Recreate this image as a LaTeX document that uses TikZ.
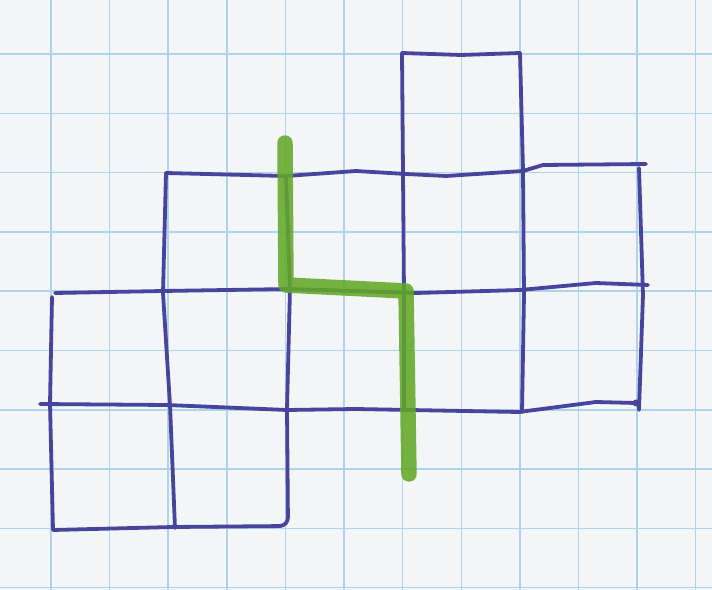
\documentclass[tikz,border=0pt]{standalone}
\usepackage{tikz}
\usepackage{xcolor}
\definecolor{paper}{RGB}{244,245,247}
\definecolor{gridblue}{RGB}{172,212,236}
\definecolor{ink}{RGB}{70,68,156}
\definecolor{marker}{RGB}{98,168,40}

\begin{document}
\begin{tikzpicture}[x=0.025cm, y=-0.025cm,
  gridline/.style={draw=gridblue, line width=1pt},
  penline/.style={draw=ink, line width=2.7pt, line cap=round, line join=round},
  markerline/.style={draw=marker, line width=11pt, line cap=round, line join=round, opacity=0.88}]
%paper
\fill[paper] (0,0) rectangle (712,590);
\useasboundingbox (0,0) rectangle (712,590);
\foreach \k in {-1,...,11}
  \draw[gridline] ({51+58.6*\k},0) -- ({51+58.6*\k},590);
\foreach \k in {-1,...,9}
  \draw[gridline] (0,{54+59.3*\k}) -- (712,{54+59.3*\k});
%horizontal pen lines
\draw[penline] (402,53) -- (461,55) -- (520,53);
\draw[penline] (166,173) -- (286,176) -- (356,171) -- (406,174) -- (446,176) -- (523,171) -- (543,165) -- (646,164);
\draw[penline] (55,293) -- (163,291) -- (290,289) -- (416,293) -- (520,290) -- (596,283) -- (648,285);
\draw[penline] (40,404) -- (167,405) -- (287,410) -- (356,409) -- (519,412) -- (596,402) -- (636,403);
\fill[ink] (636,403) circle (3.5);
%vertical pen lines
\draw[penline] (52,297) -- (50,404) -- (53,530) -- (173,527);
\draw[penline] (166,173) -- (163,293) -- (170,405) -- (175,528);
\draw[penline, rounded corners=6] (286,176) -- (290,289) -- (287,408) -- (288,526) -- (173,527);
\draw[penline] (402,53) -- (403,173) -- (404,295) -- (404,410);
\draw[penline] (520,53) -- (523,170) -- (524,295) -- (522,412);
\draw[penline] (639,168) -- (643,295) -- (639,410);
%green path
\draw[markerline] (285,143) -- (286,285) -- (406,291) -- (409,474);
\end{tikzpicture}
\end{document}
